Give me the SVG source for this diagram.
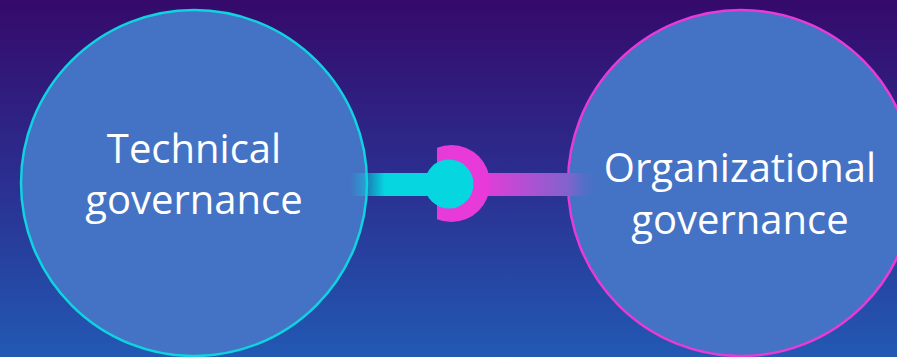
<svg xmlns="http://www.w3.org/2000/svg" width="897" height="357" viewBox="0 0 897 357">
  <defs>
    <linearGradient id="bg" x1="0" y1="0" x2="0" y2="1">
      <stop offset="0" stop-color="#350a6b"/>
      <stop offset="0.5" stop-color="#2b2e90"/>
      <stop offset="1" stop-color="#2259b3"/>
    </linearGradient>
    <linearGradient id="barL" x1="350" y1="0" x2="450" y2="0" gradientUnits="userSpaceOnUse">
      <stop offset="0" stop-color="#06d6e0" stop-opacity="0"/>
      <stop offset="0.35" stop-color="#06d6e0"/>
      <stop offset="1" stop-color="#06d6e0"/>
    </linearGradient>
    <linearGradient id="barR" x1="480" y1="0" x2="600" y2="0" gradientUnits="userSpaceOnUse">
      <stop offset="0" stop-color="#e83ad8"/>
      <stop offset="0.75" stop-color="#7e64cc"/>
      <stop offset="1" stop-color="#4472c4" stop-opacity="0"/>
    </linearGradient>
    <clipPath id="halfClip">
      <rect x="437" y="140" width="60" height="90"/>
    </clipPath>
    <style>
      .node { fill: #4472c4; stroke-width: 2.5; }
      .label { font-family: "Open Sans", "Noto Sans", sans-serif; font-size: 40px; fill: #ffffff; text-anchor: middle; }
    </style>
  </defs>
  <rect x="0" y="0" width="897" height="357" fill="url(#bg)"/>
  <g id="technical">
    <circle class="node" cx="194" cy="183" r="173" stroke="#0fd3e0"/>
    <text class="label" x="194" y="163">Technical</text>
    <text class="label" x="194" y="214">governance</text>
  </g>
  <g id="organizational">
    <circle class="node" cx="741" cy="183" r="173" stroke="#ea3ad6"/>
    <text class="label" x="740" y="182">Organizational</text>
    <text class="label" x="740" y="234">governance</text>
  </g>
  <g id="connectors">
    <rect x="350" y="173" width="100" height="23" fill="url(#barL)"/>
    <rect x="480" y="173" width="120" height="23" fill="url(#barR)"/>
    <circle cx="451.5" cy="183.5" r="38.5" fill="#e83ad8" clip-path="url(#halfClip)"/>
    <circle cx="449" cy="184" r="24.5" fill="#06d6e0"/>
  </g>
</svg>
